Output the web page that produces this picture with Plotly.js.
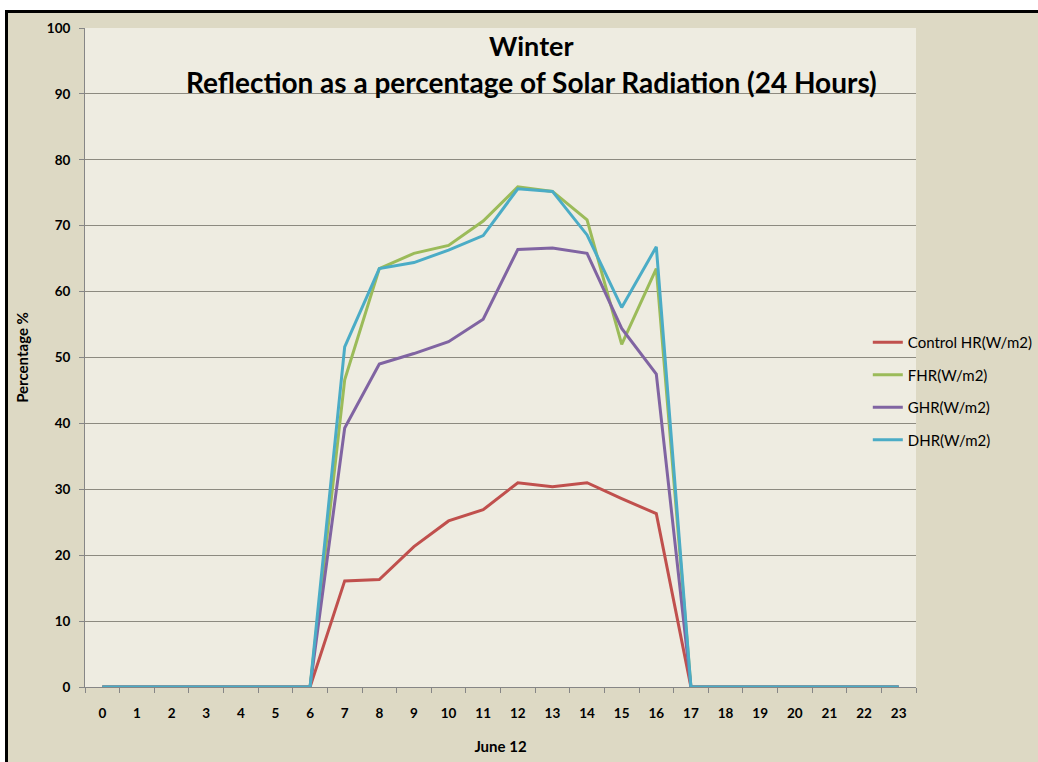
<!DOCTYPE html>
<html>
<head>
<meta charset="utf-8">
<script src="https://cdn.plot.ly/plotly-3.0.1.min.js"></script>
<style>
  html, body { margin: 0; padding: 0; background: #ffffff; }
  #frame {
    position: absolute; left: 5px; top: 10px;
    width: 1030px; height: 749px;
    border-top: 3px solid #000; border-left: 3px solid #000;
    overflow: hidden;
  }
  #chartDiv { width: 1030px; height: 749px; }
</style>
</head>
<body>
<div id="frame"><div id="chartDiv"></div></div>
<script>
// hours of the day (category axis)
var hours = ['0', '1', '2', '3', '4', '5', '6', '7', '8', '9', '10', '11',
             '12', '13', '14', '15', '16', '17', '18', '19', '20', '21', '22', '23'];

// reflection as % of solar radiation
var controlHR = [0, 0, 0, 0, 0, 0, 0, 16.1, 16.3, 21.3, 25.2, 26.9, 31.0, 30.4, 31.0, 28.6, 26.3, 0, 0, 0, 0, 0, 0, 0];
var fHR = [0, 0, 0, 0, 0, 0, 0, 46.6, 63.5, 65.8, 67.0, 70.7, 75.9, 75.2, 70.9, 52.0, 63.5, 0, 0, 0, 0, 0, 0, 0];
var gHR = [0, 0, 0, 0, 0, 0, 0, 39.3, 49.0, 50.6, 52.4, 55.8, 66.4, 66.6, 65.8, 54.4, 47.5, 0, 0, 0, 0, 0, 0, 0];
var dHR = [0, 0, 0, 0, 0, 0, 0, 51.6, 63.5, 64.4, 66.3, 68.5, 75.6, 75.2, 68.6, 57.6, 66.8, 0, 0, 0, 0, 0, 0, 0];

var seriesNames = ['Control HR(W/m2)', 'FHR(W/m2)', 'GHR(W/m2)', 'DHR(W/m2)'];
var seriesColors = ['#c0504d', '#9bbb59', '#8064a2', '#4bacc6'];
var seriesValues = [controlHR, fHR, gHR, dHR];

var titleLines = ['Winter', 'Reflection as a percentage of Solar Radiation (24 Hours)'];

var data = [];
for (var i = 0; i < seriesValues.length; i++) {
    data.push({
        x: hours,
        y: seriesValues[i],
        mode: 'lines',
        type: 'scatter',
        name: seriesNames[i],
        legendgroup: 'g' + i, // one group each so tracegroupgap spaces them out
        line: { color: seriesColors[i], width: 3 }
    });
}

// the chart title is two separate centred lines inside the plot area
var titleAnnotations = [];
var titleY = [0.9727, 0.918];
var titleSize = [27, 28];
for (var j = 0; j < titleLines.length; j++) {
    titleAnnotations.push({
        text: '<b>' + titleLines[j] + '</b>',
        xref: 'paper', yref: 'paper',
        x: 0.537, y: titleY[j],
        xanchor: 'center', yanchor: 'middle',
        showarrow: false,
        font: { size: titleSize[j], color: '#000' }
    });
}

var layout = {
    width: 1030,
    height: 749,
    paper_bgcolor: '#ddd9c4',
    plot_bgcolor: '#eeece1',
    font: { family: 'Lato, sans-serif', color: '#000' },
    margin: { l: 77, r: 122, t: 15, b: 75, autoexpand: false }, // legend runs off the edge like the original
    annotations: titleAnnotations,
    xaxis: {
        type: 'category',
        range: [-0.5, 23.5],
        title: { text: '<b>June 12</b>', font: { size: 15 }, standoff: 21 },
        tickfont: { size: 13.5, weight: 'bold' },
        ticklabelstandoff: 14,
        showgrid: false,
        zeroline: false,
        showline: true,
        linecolor: '#868686',
        ticks: 'outside',
        tickson: 'boundaries',
        ticklen: 5,
        tickcolor: '#868686'
    },
    yaxis: {
        range: [0, 100],
        dtick: 10,
        title: { text: '<b>Percentage %</b>', font: { size: 15 }, standoff: 14 },
        tickfont: { size: 13.5, weight: 'bold' },
        ticklabelstandoff: 6,
        showgrid: true,
        gridcolor: '#8c8a80',
        gridwidth: 1,
        zeroline: false,
        showline: true,
        linecolor: '#868686',
        ticks: 'outside',
        ticklen: 5,
        tickcolor: '#868686'
    },
    legend: {
        x: 0.942, xanchor: 'left',
        y: 0.449, yanchor: 'middle',
        bgcolor: 'rgba(0,0,0,0)',
        font: { size: 15 },
        traceorder: 'grouped',
        tracegroupgap: 10
    }
};

Plotly.newPlot('chartDiv', data, layout, { displayModeBar: false });
</script>
</body>
</html>
